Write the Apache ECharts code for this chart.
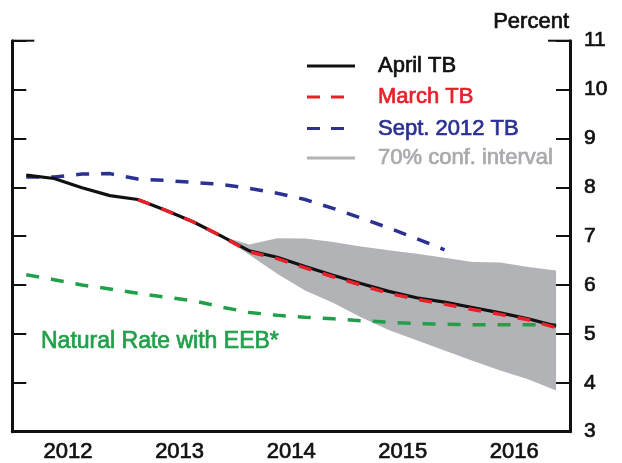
<!DOCTYPE html>
<html>
<head>
<meta charset="utf-8">
<script src="https://cdn.jsdelivr.net/npm/echarts@6.0.0/dist/echarts.min.js"></script>
<style>
  html, body { margin: 0; padding: 0; background: #fff; }
  #chart { width: 622px; height: 463px; }
</style>
</head>
<body>
<div id="chart"></div>
<script>
  "use strict";

  // quarters 2012Q1 .. 2016Q4
  const quarters = [
    "2012Q1", "2012Q2", "2012Q3", "2012Q4",
    "2013Q1", "2013Q2", "2013Q3", "2013Q4",
    "2014Q1", "2014Q2", "2014Q3", "2014Q4",
    "2015Q1", "2015Q2", "2015Q3", "2015Q4",
    "2016Q1", "2016Q2", "2016Q3", "2016Q4",
  ];
  const years = ["2012", "2013", "2014", "2015", "2016"];

  const aprilTB = [8.25, 8.18, 7.99, 7.83, 7.75, 7.53, 7.29, 7.00, 6.70, 6.57,
    6.38, 6.20, 6.03, 5.87, 5.74, 5.65, 5.54, 5.43, 5.31, 5.16];
  const marchTB = [null, null, null, null, 7.75, 7.53, 7.29, 7.00, 6.68, 6.54,
    6.35, 6.17, 6.00, 5.83, 5.71, 5.61, 5.50, 5.40, 5.29, 5.13];
  const sept2012TB = [8.21, 8.21, 8.27, 8.28, 8.17, 8.14, 8.10, 8.06, 7.98, 7.88,
    7.75, 7.57, 7.37, 7.17, 6.95, 6.72, null, null, null, null];
  const naturalRate = [6.21, 6.11, 6.00, 5.92, 5.83, 5.75, 5.68, 5.55, 5.44, 5.38,
    5.34, 5.31, 5.27, 5.24, 5.21, 5.20, 5.19, 5.19, 5.19, 5.19];
  const confLow = [null, null, null, null, null, null, null, 7.00, 6.62, 6.23,
    5.89, 5.64, 5.34, 5.08, 4.87, 4.66, 4.45, 4.25, 4.07, 3.84];
  const confHigh = [null, null, null, null, null, null, null, 7.00, 6.83, 6.96,
    6.95, 6.88, 6.79, 6.71, 6.64, 6.56, 6.47, 6.46, 6.37, 6.30];

  const FONT = "'Liberation Sans', Arial, Helvetica, sans-serif";
  const C = {
    april: "#111111",
    march: "#e8202a",
    sept: "#2b3192",
    natural: "#21a04a",
    band: "#b2b3b7",
    bandText: "#a9aaad",
  };
  const THICK = 0.7; // slight outline to get the medium text weight of the original

  // plot frame
  const G = { left: 12.3, right: 52, top: 40.7, bottom: 31.3 };
  const W = 622;
  const gx0 = G.left, gx1 = W - G.right, gy0 = G.top;

  const confWidth = confHigh.map((v, i) =>
    v == null || confLow[i] == null ? null : +(v - confLow[i]).toFixed(3));

  const chart = echarts.init(document.getElementById("chart"), null, { renderer: "canvas" });

  function txt(x, y, text, color, size, align) {
    return {
      type: "text", x: x, y: y,
      style: {
        text: text, fill: color, font: size + "px " + FONT,
        align: align || "left", verticalAlign: "middle",
        stroke: color, lineWidth: THICK,
      },
    };
  }

  // legend rows (line sample + label)
  const legendRows = [
    { y: 66, name: "April TB", color: C.april, dash: null, text: C.april },
    { y: 97, name: "March TB", color: C.march, dash: [13, 11], text: C.march },
    { y: 128.5, name: "Sept. 2012 TB", color: C.sept, dash: [13, 11], text: C.sept },
    { y: 158, name: "70% conf. interval", color: C.band, dash: null, text: C.bandText },
  ];
  const legendGraphic = [];
  legendRows.forEach((r) => {
    legendGraphic.push({
      type: "line",
      shape: { x1: 307, y1: r.y, x2: r.dash ? 345 : 355, y2: r.y },
      style: { stroke: r.color, lineWidth: 3, lineDash: r.dash || null },
    });
    legendGraphic.push(txt(378, r.y, r.name, r.text, 22));
  });

  const lineBase = { type: "line", symbol: "none", xAxisIndex: 0, yAxisIndex: 0, connectNulls: false };

  chart.setOption({
    animation: false,
    backgroundColor: "#fff",
    grid: { left: G.left, right: G.right, top: G.top, bottom: G.bottom },
    xAxis: [
      {
        type: "category",
        data: quarters,
        boundaryGap: true,
        position: "bottom",
        axisLine: { lineStyle: { color: "#111", width: 3 } },
        axisTick: { inside: true, length: 8, interval: 0, lineStyle: { color: "#111", width: 2 } },
        axisLabel: { show: false },
        splitLine: { show: false },
      },
      {
        type: "category",
        data: years,
        boundaryGap: true,
        position: "bottom",
        axisLine: { show: false },
        axisTick: { inside: true, length: 19, interval: 0, lineStyle: { color: "#111", width: 2.5 } },
        axisLabel: {
          show: true, interval: 0, margin: 9, fontSize: 22,
          color: "#111", fontFamily: FONT, textBorderColor: "#111", textBorderWidth: THICK,
        },
        splitLine: { show: false },
      },
    ],
    yAxis: [
      {
        type: "value",
        position: "right",
        min: 3, max: 11, interval: 1,
        axisLine: { show: true, lineStyle: { color: "#111", width: 3 } },
        axisTick: { show: true, inside: true, length: 14, lineStyle: { color: "#111", width: 2 } },
        axisLabel: {
          margin: 14, fontSize: 21, color: "#111", fontFamily: FONT,
          textBorderColor: "#111", textBorderWidth: THICK,
        },
        splitLine: { show: false },
      },
      {
        type: "value",
        position: "left",
        min: 3, max: 11, interval: 1,
        axisLine: { show: true, lineStyle: { color: "#111", width: 3 } },
        axisTick: { show: true, inside: true, length: 14, lineStyle: { color: "#111", width: 2 } },
        axisLabel: { show: false },
        splitLine: { show: false },
      },
    ],
    series: [
      Object.assign({}, lineBase, {
        name: "confLow",
        stack: "band",
        data: confLow,
        lineStyle: { width: 0, opacity: 0 },
        z: 1,
      }),
      Object.assign({}, lineBase, {
        name: "70% conf. interval",
        stack: "band",
        data: confWidth,
        lineStyle: { width: 0, opacity: 0 },
        areaStyle: { color: C.band, opacity: 1 },
        z: 1,
      }),
      Object.assign({}, lineBase, {
        name: "Natural Rate with EEB*",
        data: naturalRate,
        lineStyle: { color: C.natural, width: 3.5, type: [13, 12] },
        z: 3,
      }),
      Object.assign({}, lineBase, {
        name: "Sept. 2012 TB",
        data: sept2012TB,
        lineStyle: { color: C.sept, width: 3.5, type: [13, 12] },
        z: 3,
      }),
      Object.assign({}, lineBase, {
        name: "April TB",
        data: aprilTB,
        lineStyle: { color: C.april, width: 3.2 },
        z: 4,
      }),
      Object.assign({}, lineBase, {
        name: "March TB",
        data: marchTB,
        lineStyle: { color: C.march, width: 3.5, type: [13, 12] },
        z: 5,
      }),
    ],
    graphic: [
      // longer cap ticks at the top of both vertical axes
      { type: "line", shape: { x1: gx0, y1: gy0, x2: gx0 + 22, y2: gy0 }, style: { stroke: "#111", lineWidth: 2 } },
      { type: "line", shape: { x1: gx1 - 22, y1: gy0, x2: gx1, y2: gy0 }, style: { stroke: "#111", lineWidth: 2 } },
      txt(gx1 - 1, 22, "Percent", "#111", 22, "right"),
      txt(41, 341.5, "Natural Rate with EEB*", C.natural, 23),
    ].concat(legendGraphic),
  });
</script>
</body>
</html>
